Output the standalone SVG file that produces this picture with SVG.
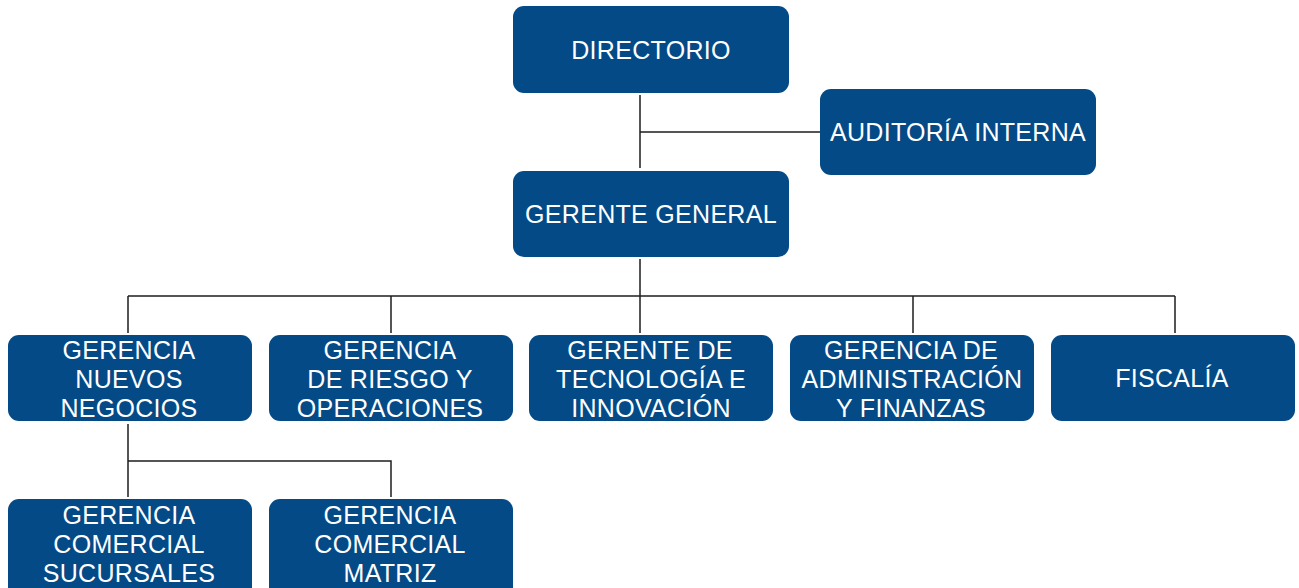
<svg xmlns="http://www.w3.org/2000/svg" width="1299" height="588" viewBox="0 0 1299 588">
<style>
.box{fill:#034a87;}
.t{font-family:"Liberation Sans",Arial,sans-serif;font-size:25px;letter-spacing:0.3px;fill:#ffffff;text-anchor:middle;}
.c{stroke:#1e1e1e;stroke-width:1.5;fill:none;}
</style>
<rect width="1299" height="588" fill="#ffffff"/>
<g id="connectors">
<path class="c" d="M640,95 V168 M640,132 H820"/>
<path class="c" d="M640,259 V296 M128,296 H1175 M128,296 V333 M391,296 V333 M640,296 V333 M913,296 V333 M1175,296 V333"/>
<path class="c" d="M128,424 V497 M128,461 H391 V497"/>
</g>
<g id="directorio"><rect class="box" x="513" y="6" width="276" height="87" rx="11"/><text class="t" x="651" y="59">DIRECTORIO</text></g>
<g id="auditoria"><rect class="box" x="820" y="89" width="276" height="86" rx="11"/><text class="t" x="958" y="141">AUDITORÍA INTERNA</text></g>
<g id="gerente-general"><rect class="box" x="513" y="171" width="276" height="86" rx="11"/><text class="t" x="651" y="223">GERENTE GENERAL</text></g>
<g id="nuevos-negocios"><rect class="box" x="8" y="335" width="244" height="86" rx="11"/><text class="t" x="129"><tspan x="129" y="359">GERENCIA</tspan><tspan x="129" y="388">NUEVOS</tspan><tspan x="129" y="417">NEGOCIOS</tspan></text></g>
<g id="riesgo"><rect class="box" x="269" y="335" width="244" height="86" rx="11"/><text class="t" x="390"><tspan x="390" y="359">GERENCIA</tspan><tspan x="390" y="388">DE RIESGO Y</tspan><tspan x="390" y="417">OPERACIONES</tspan></text></g>
<g id="tecnologia"><rect class="box" x="529" y="335" width="244" height="86" rx="11"/><text class="t" x="651"><tspan x="650" y="359">GERENTE DE</tspan><tspan x="651" y="388">TECNOLOGÍA E</tspan><tspan x="651" y="417">INNOVACIÓN</tspan></text></g>
<g id="administracion"><rect class="box" x="790" y="335" width="244" height="86" rx="11"/><text class="t" x="912"><tspan x="911" y="359">GERENCIA DE</tspan><tspan x="912" y="388">ADMINISTRACIÓN</tspan><tspan x="911" y="417">Y FINANZAS</tspan></text></g>
<g id="fiscalia"><rect class="box" x="1051" y="335" width="244" height="86" rx="11"/><text class="t" x="1172" y="387">FISCALÍA</text></g>
<g id="sucursales"><rect class="box" x="8" y="499" width="244" height="100" rx="11"/><text class="t" x="129"><tspan x="129" y="524">GERENCIA</tspan><tspan x="129" y="553">COMERCIAL</tspan><tspan x="129" y="582">SUCURSALES</tspan></text></g>
<g id="matriz"><rect class="box" x="269" y="499" width="244" height="100" rx="11"/><text class="t" x="390"><tspan x="390" y="524">GERENCIA</tspan><tspan x="390" y="553">COMERCIAL</tspan><tspan x="390" y="582">MATRIZ</tspan></text></g>
</svg>
